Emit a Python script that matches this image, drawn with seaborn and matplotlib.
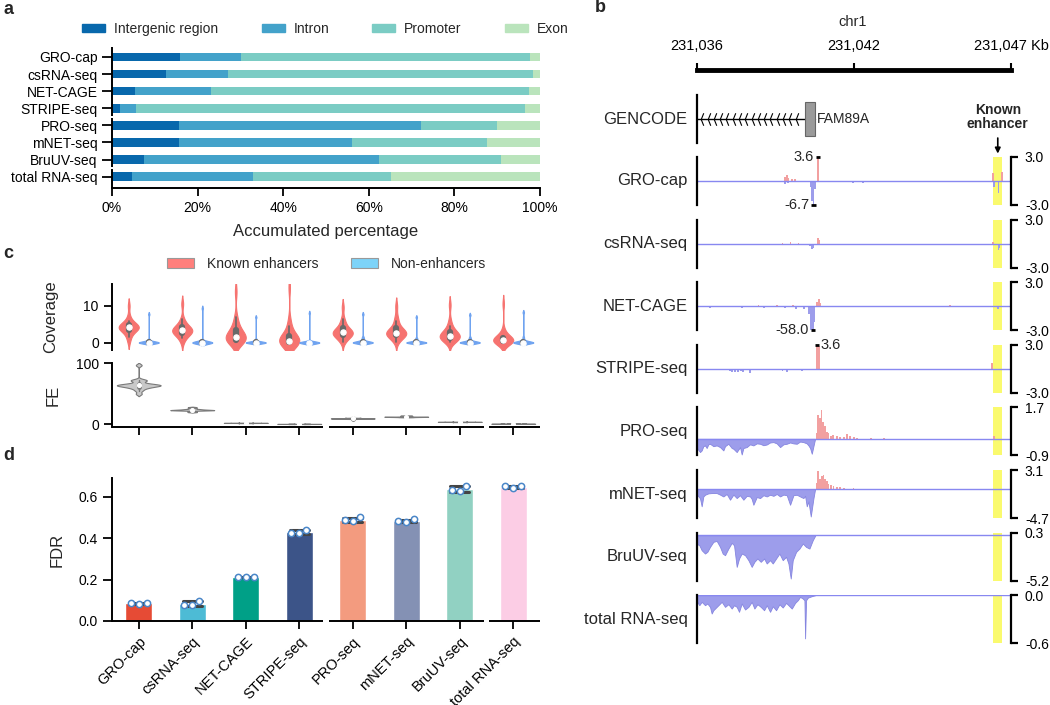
import numpy as np
import pandas as pd
import matplotlib
matplotlib.use("Agg")
import matplotlib.pyplot as plt
import matplotlib.transforms as mtransforms
from matplotlib.collections import PolyCollection
from matplotlib.patches import Patch, Rectangle
import seaborn as sns

# ---------------- data ----------------
methods = ["GRO-cap", "csRNA-seq", "NET-CAGE", "STRIPE-seq",
           "PRO-seq", "mNET-seq", "BruUV-seq", "total RNA-seq"]
method_groups = [4, 3, 1]

# panel a: genomic annotation of peaks (%)
regions = ["Intergenic region", "Intron", "Promoter", "Exon"]
intergenic = [15.8, 12.7, 5.3, 1.9, 15.6, 15.6, 7.4, 4.7]
intron = [14.4, 14.5, 17.8, 3.6, 56.6, 40.4, 55.0, 28.3]
promoter = [67.5, 71.1, 74.3, 91.0, 17.7, 31.5, 28.5, 32.2]
exon = [2.3, 1.7, 2.6, 3.5, 10.1, 12.5, 9.1, 34.8]
region_colors = ["#0868ac", "#43a2ca", "#7bccc4", "#bae4bc"]

# panel c: coverage at known enhancers / non-enhancers, and fold enrichment
groups = ["Known enhancers", "Non-enhancers"]
cov_known = [
    [4.2, 4.5, 3.9, 4.0, 4.8, 3.5, 5.2, 2.8, 4.4, 3.7, 6.0, 5.5, 2.2, 1.5, 4.1, 7.2, 10.0, 0.3, 3.2, 4.6],
    [3.4, 3.0, 3.8, 2.5, 4.2, 3.1, 2.0, 4.8, 5.5, 1.2, 3.6, 2.8, 6.5, 0.2, 3.3, 10.5, 4.0, 2.2],
    [0.3, 0.5, 0.8, 1.0, 1.2, 1.5, 0.6, 2.0, 2.5, 3.0, 3.5, 0.2, 4.2, 5.5, 7.0, 13.8, 1.8, 0.9],
    [0.0, 0.1, 0.2, 0.0, 0.4, 0.6, 0.1, 1.0, 1.5, 2.0, 3.0, 0.3, 0.0, 4.5, 6.0, 15.0, 0.2, 0.8],
    [2.7, 2.5, 3.0, 2.2, 3.5, 1.8, 4.0, 1.5, 2.9, 0.8, 4.6, 0.2, 5.5, 2.6, 6.5, 9.6, 3.2, 2.0],
    [2.5, 2.8, 2.2, 3.0, 1.9, 3.4, 1.5, 4.0, 0.9, 2.6, 4.8, 0.2, 5.8, 2.4, 7.0, 9.9, 3.1, 2.0],
    [1.6, 1.2, 2.0, 1.0, 2.5, 0.8, 1.8, 3.0, 0.5, 1.4, 3.8, 0.1, 4.5, 2.2, 6.0, 10.2, 1.7, 2.8],
    [0.5, 0.3, 0.6, 0.8, 0.2, 1.0, 0.4, 1.3, 0.0, 0.7, 1.8, 0.1, 2.5, 0.5, 3.5, 10.5, 0.9, 0.6],
]
cov_non = [
    [0, 0, 0, 0, 0, 0, 0, 0, 0, 0, 0, 0, 0.05, 0.1, 0.2, 0.4, 0.8, 7.7],
    [0, 0, 0, 0, 0, 0, 0, 0, 0, 0, 0, 0, 0, 0.05, 0.1, 0.2, 0.5, 9.3],
    [0, 0, 0, 0, 0, 0, 0, 0, 0, 0, 0, 0, 0.05, 0.1, 0.2, 0.4, 0.9, 6.9],
    [0, 0, 0, 0, 0, 0, 0, 0, 0, 0, 0, 0, 0, 0, 0.05, 0.1, 0.2, 8.0],
    [0, 0, 0, 0, 0, 0, 0, 0, 0, 0, 0.05, 0.1, 0.2, 0.3, 0.6, 1.0, 1.5, 7.7],
    [0, 0, 0, 0, 0, 0, 0, 0, 0, 0, 0, 0.05, 0.1, 0.2, 0.4, 0.8, 1.2, 6.9],
    [0, 0, 0, 0, 0, 0, 0, 0, 0, 0, 0.05, 0.1, 0.2, 0.3, 0.5, 0.9, 1.4, 7.5],
    [0, 0, 0, 0, 0, 0, 0, 0, 0, 0, 0, 0.05, 0.1, 0.2, 0.4, 0.8, 1.5, 8.2],
]
fe_values = [
    [64.5, 63.0, 65.0, 62.0, 64.0, 66.0, 72.0, 73.0, 71.0, 60.0, 58.0, 55.0, 50.0, 97.0, 64.0, 63.5, 67.0, 61.0],
    [23.3, 23.0, 24.0, 22.5, 23.8, 25.0, 26.0, 21.0, 23.5, 22.8, 24.5, 20.0, 28.0, 23.1],
    [2.2, 2.3, 2.1, 2.4, 2.0, 2.2, 2.5, 1.9, 2.2, 2.3],
    [0.5, 0.6, 0.4, 0.5, 0.55, 0.45, 0.5, 0.6, 0.4, 0.5],
    [9.5, 9.3, 9.8, 9.0, 10.2, 9.6, 8.8, 10.5, 9.4, 9.7],
    [12.2, 12.0, 12.5, 11.8, 13.0, 12.3, 11.5, 14.0, 12.1, 12.4],
    [3.9, 4.0, 3.8, 4.1, 3.7, 3.9, 4.2, 3.6, 3.9, 4.0],
    [0.8, 0.85, 0.75, 0.8, 0.9, 0.7, 0.8, 0.85, 0.78, 0.82],
]

# panel d: FDR replicates
fdr_reps = [
    [0.081, 0.085, 0.088],
    [0.097, 0.075, 0.076],
    [0.210, 0.212, 0.211],
    [0.441, 0.424, 0.423],
    [0.500, 0.485, 0.483],
    [0.490, 0.478, 0.482],
    [0.652, 0.628, 0.630],
    [0.652, 0.650, 0.641],
]
bar_colors = ["#e64b35", "#4dbbd5", "#00a087", "#3c5488",
              "#f39b7f", "#8491b4", "#91d1c2", "#fccde5"]

# panel b: browser tracks, positions in kb from the window start
start_kb = 231035.7
window_kb = 11.75
gene_name = "FAM89A"
gene_span = [0.0, 4.42]
exon_span = [4.04, 4.42]
enhancer_span = [11.08, 11.43]
track_top = [3.0, 3.0, 3.0, 3.0, 1.7, 3.1, 0.3, 0.0]
track_bottom = [-3.0, -3.0, -3.0, -3.0, -0.9, -4.7, -5.2, -0.6]
clip_side = ["left", "left", "left", "right", "left", "left", "left", "left"]

gro_plus_pos = [3.30, 3.36, 3.42, 3.55, 3.67, 4.52, 11.07, 11.40]
gro_plus_val = [0.5, 0.8, 0.4, 0.3, 0.2, 3.6, 1.0, 1.1]
gro_minus_pos = [1.99, 3.30, 3.40, 4.25, 4.31, 4.36, 4.41, 5.84, 6.22, 8.46, 11.12, 11.28]
gro_minus_val = [-0.1, -0.4, -0.3, -0.8, -2.5, -6.7, -1.0, -0.3, -0.2, -0.1, -0.8, -1.5]

cs_plus_pos = [3.2, 3.5, 3.8, 4.52, 4.57, 11.07]
cs_plus_val = [0.1, 0.15, 0.1, 0.7, 0.4, 0.15]
cs_minus_pos = [4.22, 4.30, 4.36, 11.28, 11.32]
cs_minus_val = [-0.3, -0.7, -0.5, -0.8, -0.5]

net_plus_pos = [2.3, 3.0, 3.6, 4.50, 4.56, 4.62, 9.48]
net_plus_val = [0.1, 0.1, 0.15, 0.5, 0.9, 0.4, 0.15]
net_minus_pos = [0.2, 0.5, 0.9, 1.3, 1.7, 2.1, 2.5, 2.9, 3.3, 3.7, 4.0, 4.2, 4.27, 4.33, 4.39, 11.26]
net_minus_val = [-0.15, -0.2, -0.1, -0.15, -0.2, -0.1, -0.25, -0.15, -0.2, -0.3, -0.4, -1.0, -3.5, -58.0, -2.0, -0.3]

stripe_plus_pos = [4.49, 4.55, 11.05]
stripe_plus_val = [3.6, 2.8, 0.75]
stripe_minus_pos = [1.22, 1.30, 1.42, 1.55, 1.64, 1.73, 1.98, 3.20, 3.36, 3.92]
stripe_minus_val = [-0.3, -0.4, -0.35, -0.4, -0.3, -0.35, -0.5, -0.3, -0.4, -0.3]

pro_plus_pos = [4.48, 4.54, 4.60, 4.66, 4.72, 4.79, 4.85, 4.92, 5.00, 5.10, 5.23,
                5.36, 5.50, 5.62, 5.73, 5.86, 6.00, 6.50, 7.00, 11.10]
pro_plus_val = [0.3, 1.3, 1.1, 1.55, 0.9, 0.7, 0.35, 0.3, 0.15, 0.2, 0.15,
                0.1, 0.1, 0.25, 0.15, 0.08, 0.05, 0.05, 0.03, 0.15]
pro_minus_pos = [0.0, 0.112, 0.175, 0.237, 0.300, 0.362, 0.424, 0.487, 0.612, 0.737,
                 0.862, 0.986, 1.049, 1.174, 1.299, 1.361, 1.486, 1.610, 1.673, 1.735,
                 1.860, 1.985, 2.110, 2.235, 2.360, 2.485, 2.609, 2.734, 2.859, 2.984,
                 3.109, 3.233, 3.358, 3.483, 3.608, 3.733, 3.858, 3.982, 4.107, 4.170,
                 4.232, 4.295, 4.357, 4.419]
pro_minus_val = [-0.5, -0.72, -0.63, -0.4, -0.36, -0.5, -0.3, -0.27, -0.4, -0.36,
                 -0.45, -0.63, -0.4, -0.27, -0.5, -0.54, -0.72, -0.45, -0.85, -0.5,
                 -0.45, -0.3, -0.36, -0.25, -0.27, -0.35, -0.31, -0.2, -0.18, -0.25,
                 -0.45, -0.3, -0.27, -0.2, -0.25, -0.27, -0.15, -0.18, -0.25, -0.36,
                 -0.5, -0.81, -0.4, 0.0]

mnet_plus_pos = [4.50, 4.544, 4.607, 4.669, 4.732, 4.794, 4.857, 4.919, 5.00, 5.106,
                 5.23, 5.36, 5.50, 5.855, 6.20]
mnet_plus_val = [1.0, 2.9, 1.6, 2.1, 2.3, 1.6, 1.25, 0.9, 0.6, 0.5,
                 0.35, 0.4, 0.2, 0.2, 0.05]
mnet_minus_pos = [0.0, 0.112, 0.175, 0.237, 0.300, 0.424, 0.549, 0.737, 0.862, 0.986,
                  1.111, 1.236, 1.361, 1.486, 1.610, 1.735, 1.860, 1.985, 2.047, 2.110,
                  2.235, 2.360, 2.485, 2.609, 2.734, 2.859, 2.984, 3.109, 3.233, 3.358,
                  3.483, 3.608, 3.733, 3.858, 3.982, 4.045, 4.107, 4.170, 4.257, 4.357,
                  4.419]
mnet_minus_val = [-0.9, -1.5, -2.8, -1.2, -0.92, -0.7, -0.65, -0.65, -0.9, -1.2,
                  -0.8, -1.73, -0.9, -1.46, -1.0, -1.73, -1.1, -1.2, -1.6, -2.55,
                  -1.3, -1.46, -1.0, -1.2, -0.92, -1.1, -0.8, -1.2, -0.9, -1.0,
                  -2.55, -1.0, -0.92, -1.2, -1.46, -1.1, -2.8, -2.0, -4.45, -1.5,
                  0.0]

bru_plus_pos = []
bru_plus_val = []
bru_minus_pos = [0.0, 0.087, 0.175, 0.300, 0.387, 0.487, 0.612, 0.737, 0.862, 0.961,
                 1.049, 1.174, 1.299, 1.386, 1.486, 1.573, 1.673, 1.798, 1.923, 2.047,
                 2.147, 2.260, 2.385, 2.510, 2.609, 2.734, 2.834, 2.959, 3.084, 3.208,
                 3.333, 3.421, 3.508, 3.583, 3.708, 3.833, 3.958, 4.082, 4.207, 4.332,
                 4.432]
bru_minus_val = [-1.0, -1.15, -1.72, -2.1, -1.9, -1.34, -0.76, -0.65, -1.34, -2.1,
                 -2.29, -1.53, -0.88, -1.15, -3.63, -2.67, -2.1, -2.29, -2.86, -3.63,
                 -3.05, -2.67, -3.05, -2.67, -3.24, -2.86, -3.24, -2.67, -2.1, -2.86,
                 -2.48, -3.24, -4.96, -2.86, -1.91, -1.53, -0.95, -1.34, -1.53, -0.57,
                 0.0]

total_plus_pos = []
total_plus_val = []
total_minus_pos = [0.0, 0.087, 0.175, 0.300, 0.387, 0.487, 0.549, 0.612, 0.737, 0.862,
                   0.924, 1.049, 1.174, 1.299, 1.386, 1.486, 1.573, 1.673, 1.798, 1.923,
                   2.047, 2.147, 2.260, 2.385, 2.510, 2.609, 2.734, 2.834, 2.959, 3.084,
                   3.208, 3.333, 3.421, 3.546, 3.671, 3.771, 3.858, 3.958, 4.020, 4.045,
                   4.082, 4.150, 4.300, 4.432]
total_minus_val = [-0.08, -0.125, -0.083, -0.125, -0.104, -0.146, -0.229, -0.188, -0.146, -0.104,
                   -0.083, -0.146, -0.113, -0.167, -0.125, -0.146, -0.208, -0.104, -0.179, -0.146,
                   -0.083, -0.167, -0.113, -0.146, -0.188, -0.125, -0.208, -0.138, -0.188, -0.113,
                   -0.154, -0.096, -0.125, -0.167, -0.096, -0.063, -0.021, -0.042, -0.063, -0.54,
                   -0.063, -0.03, -0.012, 0.0]

plus_pos = [gro_plus_pos, cs_plus_pos, net_plus_pos, stripe_plus_pos,
            pro_plus_pos, mnet_plus_pos, bru_plus_pos, total_plus_pos]
plus_val = [gro_plus_val, cs_plus_val, net_plus_val, stripe_plus_val,
            pro_plus_val, mnet_plus_val, bru_plus_val, total_plus_val]
minus_pos = [gro_minus_pos, cs_minus_pos, net_minus_pos, stripe_minus_pos,
             pro_minus_pos, mnet_minus_pos, bru_minus_pos, total_minus_pos]
minus_val = [gro_minus_val, cs_minus_val, net_minus_val, stripe_minus_val,
             pro_minus_val, mnet_minus_val, bru_minus_val, total_minus_val]
minus_dense = [False, False, False, False, True, True, True, True]

# ---------------- style ----------------
sns.set_theme(style="ticks", rc={
    "axes.edgecolor": "black", "axes.linewidth": 1.4,
    "xtick.color": "black", "ytick.color": "black",
    "xtick.major.width": 1.3, "ytick.major.width": 1.3,
    "xtick.major.size": 6, "ytick.major.size": 6,
    "xtick.labelsize": 10, "ytick.labelsize": 10,
    "axes.labelsize": 12, "font.size": 10,
})
plt.rcParams["font.family"] = ["Liberation Sans", "DejaVu Sans"]

W, H = 1050, 705
fig = plt.figure(figsize=(W / 100, H / 100), dpi=100)


def px_axes(left, top, right, bottom):
    return fig.add_axes([left / W, 1 - bottom / H, (right - left) / W, (bottom - top) / H])


def group_segments(lo, hi, gap=0.05):
    edges = np.cumsum(method_groups)[:-1] - 0.5
    starts = [lo] + [e + gap for e in edges]
    ends = [e - gap for e in edges] + [hi]
    return list(zip(starts, ends))


def broken_spine(ax, which, segments):
    if which == "x":
        ax.spines["bottom"].set_visible(False)
        tr = mtransforms.blended_transform_factory(ax.transData, ax.transAxes)
        for a, b in segments:
            ax.plot([a, b], [0, 0], color="black", lw=1.4, transform=tr,
                    clip_on=False, solid_capstyle="butt")
    else:
        ax.spines["left"].set_visible(False)
        tr = mtransforms.blended_transform_factory(ax.transAxes, ax.transData)
        for a, b in segments:
            ax.plot([0, 0], [a, b], color="black", lw=1.4, transform=tr,
                    clip_on=False, solid_capstyle="butt")


# ---------------- panel a ----------------
ax_a = px_axes(112, 47, 540, 188)
cum = np.cumsum([intergenic, intron, promoter, exon], axis=0)
for i in range(3, -1, -1):
    df = pd.DataFrame({"method": methods, "pct": cum[i]})
    sns.barplot(data=df, x="pct", y="method", order=methods, color=region_colors[i],
                width=0.5, saturation=1, orient="y", linewidth=0, ax=ax_a)
ax_a.set_xlim(0, 100)
ax_a.set_ylim(7.66, -0.58)
ax_a.set_xticks([0, 20, 40, 60, 80, 100])
ax_a.set_xticklabels([f"{v}%" for v in [0, 20, 40, 60, 80, 100]])
ax_a.set_xlabel("Accumulated percentage", fontsize=12, labelpad=6)
ax_a.set_ylabel("")
ax_a.tick_params(axis="y", length=7)
sns.despine(ax=ax_a)
broken_spine(ax_a, "y", [(s, e) for s, e in zip([-0.58, 3.55, 6.55], [3.45, 6.45, 7.66])])
fig.legend([Patch(color=c) for c in region_colors], regions, loc="center",
           bbox_to_anchor=(0.31, 0.959), ncol=4, frameon=False, fontsize=10,
           handlelength=1.65, handleheight=0.6, handletextpad=0.65, columnspacing=3.1)

# ---------------- panel c ----------------
red, blue = "#f67370", "#6fa3f0"
known_df = pd.DataFrame([(m, groups[0], v) for m, vals in zip(methods, cov_known) for v in vals],
                        columns=["method", "group", "coverage"])
non_df = pd.DataFrame([(m, groups[1], v) for m, vals in zip(methods, cov_non) for v in vals],
                      columns=["method", "group", "coverage"])
fe_df = pd.DataFrame([(m, v) for m, vals in zip(methods, fe_values) for v in vals],
                     columns=["method", "fe"])

ax_cov = px_axes(112, 284, 540, 350)
for df, bw in [(known_df, 0.9), (non_df, 0.3)]:
    sns.violinplot(data=df, x="method", y="coverage", hue="group", hue_order=groups,
                   order=methods, palette={groups[0]: red, groups[1]: blue}, dodge=True,
                   width=0.75, gap=0, density_norm="width", bw_adjust=bw, inner="box",
                   inner_kws=dict(box_width=4.5, whis_width=1.2, marker="o"),
                   linewidth=0.8, saturation=1, legend=False, ax=ax_cov)
for coll in ax_cov.collections:
    if isinstance(coll, PolyCollection):
        coll.set_edgecolor(coll.get_facecolor())
ax_cov.set_xlim(-0.5, 7.5)
ax_cov.set_ylim(-2.0, 15.9)
ax_cov.set_yticks([0, 10])
ax_cov.set_xticks([])
ax_cov.set_xlabel("")
ax_cov.set_ylabel("Coverage")
ax_cov.yaxis.set_label_coords(-0.127, 0.5)
sns.despine(ax=ax_cov, bottom=True)

ax_fe = px_axes(112, 363, 540, 427)
sns.violinplot(data=fe_df, x="method", y="fe", order=methods, color="#c8c8c8",
               width=0.82, density_norm="width", bw_adjust=0.35, inner="box",
               inner_kws=dict(box_width=3.5, whis_width=1.0, marker="o"),
               linewidth=0.8, linecolor="#7a7a7a", saturation=1, ax=ax_fe)
ax_fe.set_xlim(-0.5, 7.5)
ax_fe.set_ylim(-4.5, 100.5)
ax_fe.set_yticks([0, 100])
ax_fe.set_xticklabels([])
ax_fe.set_xlabel("")
ax_fe.set_ylabel("FE")
ax_fe.yaxis.set_label_coords(-0.12, 0.5)
sns.despine(ax=ax_fe)
broken_spine(ax_fe, "x", group_segments(-0.5, 7.5))

fig.legend([Patch(facecolor="#ff7f7c", edgecolor="#999999", lw=0.8),
            Patch(facecolor="#7dd3f8", edgecolor="#999999", lw=0.8)], groups,
           loc="center", bbox_to_anchor=(0.311, 0.6255), ncol=2, frameon=False, fontsize=10,
           handlelength=1.95, handleheight=0.72, handletextpad=0.9, columnspacing=2.4)

# ---------------- panel d ----------------
fdr_df = pd.DataFrame([(m, v) for m, vals in zip(methods, fdr_reps) for v in vals],
                      columns=["method", "fdr"])
ax_d = px_axes(112, 478, 540, 621)
sns.barplot(data=fdr_df, x="method", y="fdr", order=methods, hue="method",
            palette=dict(zip(methods, bar_colors)), errorbar="sd", capsize=0.35,
            err_kws={"linewidth": 2.2, "color": "#444444"}, width=0.5,
            saturation=1, legend=False, ax=ax_d)
sns.swarmplot(data=fdr_df, x="method", y="fdr", order=methods, color="white",
              edgecolor="#4a86c8", linewidth=1.1, size=4.5, ax=ax_d, zorder=4)
ax_d.set_xlim(-0.5, 7.5)
ax_d.set_ylim(0, 0.69)
ax_d.set_yticks([0, 0.2, 0.4, 0.6])
ax_d.set_yticklabels(["0.0", "0.2", "0.4", "0.6"])
ax_d.tick_params(axis="y", length=6.5)
ax_d.set_xticks(range(len(methods)))
ax_d.set_xticklabels(methods, rotation=45, ha="right", rotation_mode="anchor", fontsize=10.5)
ax_d.set_xlabel("")
ax_d.set_ylabel("FDR")
ax_d.yaxis.set_label_coords(-0.11, 0.5)
sns.despine(ax=ax_d)
broken_spine(ax_d, "x", group_segments(-0.5, 7.5))

# ---------------- panel b ----------------
ax_r = px_axes(697, 70, 1011, 76)
ax_r.set_xlim(0, window_kb)
ax_r.set_facecolor("none")
for s in ["left", "right", "bottom"]:
    ax_r.spines[s].set_visible(False)
ax_r.spines["top"].set_linewidth(3.5)
ax_r.xaxis.tick_top()
ruler_ticks = [0, window_kb / 2, window_kb]
ax_r.set_xticks(ruler_ticks)
ruler_labels = [f"{start_kb + t:,.0f}" for t in ruler_ticks]
ruler_labels[-1] += " Kb"
ax_r.set_xticklabels(ruler_labels, fontsize=10.5)
ax_r.tick_params(axis="x", direction="out", length=5, width=1.5, pad=7)
ax_r.set_yticks([])
fig.text(853 / W, 1 - 22 / H, "chr1", ha="center", va="center", fontsize=10.5)

ax_g = px_axes(697, 95, 1011, 143)
ax_g.set_xlim(0, window_kb)
ax_g.set_ylim(-1, 1)
ax_g.plot(gene_span, [0, 0], color="black", lw=1)
chevrons = np.arange(0.2, exon_span[0] - 0.1, 0.235)
ax_g.plot(chevrons, np.zeros(len(chevrons)), ls="none",
          marker=[(0.2, 1), (-0.2, 0), (0.2, -1)], markersize=9,
          markerfacecolor="none", markeredgecolor="black", markeredgewidth=0.8)
ax_g.add_patch(Rectangle((exon_span[0], -0.69), exon_span[1] - exon_span[0], 1.38,
                         facecolor="#9a9a9a", edgecolor="#666666", lw=0.8, zorder=3))
ax_g.text(exon_span[1] + 0.08, 0, gene_name, ha="left", va="center", fontsize=10)
ax_g.annotate("Known\nenhancer", xy=(np.mean(enhancer_span), -0.22),
              xycoords=("data", "axes fraction"), xytext=(np.mean(enhancer_span), 0.55),
              textcoords=("data", "axes fraction"), ha="center", va="center",
              fontsize=10, fontweight="bold", linespacing=1.0,
              arrowprops=dict(arrowstyle="-|>", color="black", lw=1.2, mutation_scale=8,
                              shrinkA=3, shrinkB=0))
ax_g.set_xticks([])
ax_g.set_yticks([])
for s in ["top", "right", "bottom"]:
    ax_g.spines[s].set_visible(False)
ax_g.spines["left"].set_linewidth(1.6)
ax_g.set_facecolor("none")
ax_g.text(-0.03, 0.5, "GENCODE", transform=ax_g.transAxes, ha="right", va="center", fontsize=12)

pos_color, neg_color = "#f2a0a0", "#9d9deb"
neg_edge = "#8585e0"
for i, name in enumerate(methods):
    top = 157 + 62.6 * i
    ax = px_axes(697, top, 1011, top + 48)
    ax.set_xlim(0, window_kb)
    lo, hi = track_bottom[i], track_top[i]
    ax.set_ylim(lo, hi)
    ax.axvspan(*enhancer_span, color="#fafa6e", zorder=0, lw=0)
    if plus_pos[i]:
        ax.bar(plus_pos[i], plus_val[i], width=0.07, color=pos_color, lw=0, zorder=1)
    if minus_dense[i]:
        ax.fill_between(minus_pos[i], 0, minus_val[i], facecolor=neg_color,
                        edgecolor=neg_edge, lw=0.6, zorder=1)
    else:
        ax.bar(minus_pos[i], minus_val[i], width=0.07, color=neg_color, lw=0, zorder=1)
    ax.axhline(0, color="#8888f0", lw=1, zorder=2)
    # values beyond the track range
    side = clip_side[i]
    for pos, val, edge in [(plus_pos[i], plus_val[i], hi), (minus_pos[i], minus_val[i], lo)]:
        if not len(val):
            continue
        k = int(np.argmax(np.abs(val)))
        if (edge > 0 and val[k] > edge) or (edge < 0 and val[k] < edge):
            x = pos[k]
            ax.plot([x - 0.08, x + 0.08], [edge, edge], color="black", lw=2,
                    clip_on=False, solid_capstyle="butt", zorder=3)
            if side == "left":
                ax.text(x - 0.14, edge, f"{val[k]:.1f}", ha="right", va="center", fontsize=10.5)
            else:
                ax.text(x + 0.14, edge, f"{val[k]:.1f}", ha="left", va="center", fontsize=10.5)
    ax.set_xticks([])
    ax.yaxis.tick_right()
    ax.set_yticks([lo, hi])
    ax.set_yticklabels([f"{lo:.1f}", f"{hi:.1f}"], fontsize=10)
    ax.tick_params(axis="y", direction="out", length=5, width=1.6, pad=5)
    for s in ["top", "bottom"]:
        ax.spines[s].set_visible(False)
    ax.spines["left"].set_linewidth(1.6)
    ax.spines["right"].set_linewidth(1.6)
    ax.set_facecolor("none")
    ax.text(-0.03, 0.5, name, transform=ax.transAxes, ha="right", va="center", fontsize=12)

# panel letters
for letter, x, y in [("a", 3, 10), ("b", 595, 8), ("c", 3, 253), ("d", 3, 456)]:
    fig.text(x / W, 1 - y / H, letter, fontsize=13, fontweight="bold", ha="left", va="center")

fig.savefig("out.png", dpi=100)
